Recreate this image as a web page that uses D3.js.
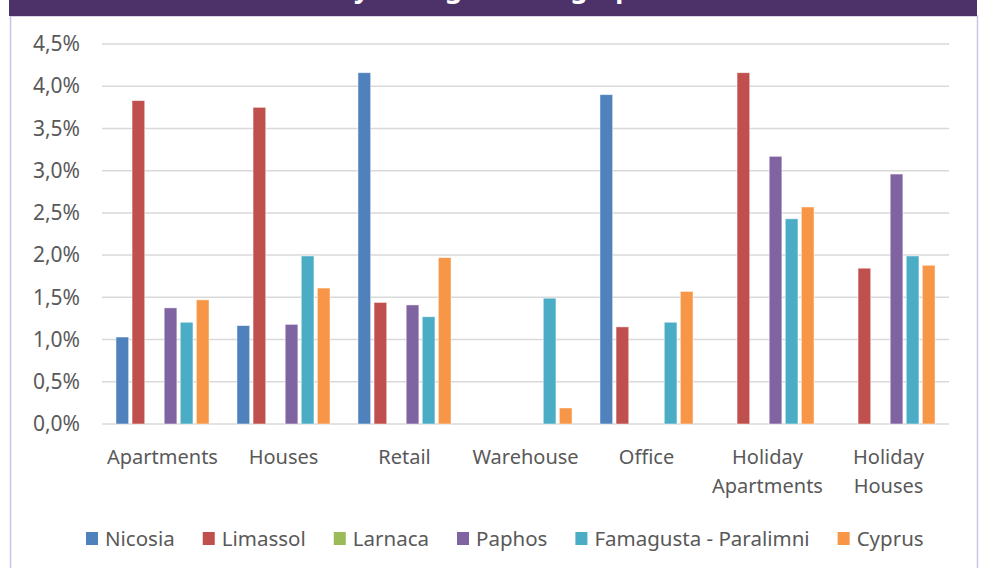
<!DOCTYPE html>
<html>
<head>
<meta charset="utf-8">
<script src="https://cdn.jsdelivr.net/npm/d3@7"></script>
<style>
  body { margin: 0; background: #fff; }
  svg { display: block; font-family: "Noto Sans", sans-serif; }
</style>
</head>
<body>
<div id="chart"></div>
<script>
// Chart data
const categories = ["Apartments", "Houses", "Retail", "Warehouse", "Office", "Holiday Apartments", "Holiday Houses"];
const seriesNames = ["Nicosia", "Limassol", "Larnaca", "Paphos", "Famagusta - Paralimni", "Cyprus"];
const seriesColors = ["#4f81bd", "#c0504d", "#9bbb59", "#8064a2", "#4bacc6", "#f79646"];

// values in %, null = no bar
const nicosia   = [1.03, 1.165, 4.16, null, 3.90, null, null];
const limassol  = [3.83, 3.75, 1.44, null, 1.15, 4.16, 1.845];
const larnaca   = [null, null, null, null, null, null, null];
const paphos    = [1.375, 1.18, 1.41, null, null, 3.17, 2.96];
const famagusta = [1.205, 1.99, 1.27, 1.49, 1.205, 2.43, 1.99];
const cyprus    = [1.47, 1.61, 1.97, 0.19, 1.57, 2.57, 1.88];
const seriesValues = [nicosia, limassol, larnaca, paphos, famagusta, cyprus];

const yTicks = [0, 0.5, 1, 1.5, 2, 2.5, 3, 3.5, 4, 4.5];
const title = "Yearly Change in Geographical Areas";

const width = 981;
const height = 568;
const plot = { left: 102, right: 949, top: 44, bottom: 424 };

const svg = d3.select("#chart")
    .append("svg")
    .attr("width", width)
    .attr("height", height);

// Outer frame and header banner
svg.append("rect")
    .attr("x", 10.5).attr("y", 16)
    .attr("width", 967).attr("height", height)
    .attr("fill", "#fff")
    .attr("stroke", "#cdc3e3")
    .attr("stroke-width", 1.5);

svg.append("rect")
    .attr("x", 9).attr("y", 0)
    .attr("width", 968).attr("height", 16)
    .attr("fill", "#4d3169");

// title is cut off at the top of the picture, only descenders show
svg.append("text")
    .attr("x", 286)
    .attr("y", -2)
    .attr("fill", "#fff")
    .style("font-size", "27px")
    .style("font-weight", "bold")
    .text(title);

// Scales
const x0 = d3.scaleBand()
    .domain(categories)
    .range([plot.left, plot.right])
    .padding(0);

const x1 = d3.scaleBand()
    .domain(seriesNames)
    .range([0, x0.bandwidth()])
    .paddingInner(0.21)
    .paddingOuter(0.87);

const y = d3.scaleLinear()
    .domain([0, 4.5])
    .range([plot.bottom, plot.top]);

const locale = d3.formatLocale({ decimal: ",", thousands: ".", grouping: [3], currency: ["", "€"] });
const fmt = locale.format(".1f");

// Gridlines
svg.append("g")
    .selectAll("line")
    .data(yTicks)
    .join("line")
    .attr("x1", plot.left)
    .attr("x2", plot.right)
    .attr("y1", d => y(d))
    .attr("y2", d => y(d))
    .attr("stroke", "#d9d9d9")
    .attr("stroke-width", 1.5);

// Y axis labels
const yAxis = d3.axisLeft(y)
    .tickValues(yTicks)
    .tickSize(0)
    .tickPadding(22)
    .tickFormat(d => fmt(d) + "%");

svg.append("g")
    .attr("transform", `translate(${plot.left}, 0)`)
    .call(yAxis)
    .call(g => g.select(".domain").remove())
    .call(g => g.selectAll("text")
        .attr("fill", "#595959")
        .style("font-family", "Noto Sans, sans-serif")
        .style("font-size", "21px"));

// Bars
const rows = categories.map((c, i) => ({
    category: c,
    values: seriesNames.map((s, j) => ({ series: s, color: seriesColors[j], value: seriesValues[j][i] }))
}));

svg.append("g")
    .selectAll("g")
    .data(rows)
    .join("g")
    .attr("transform", d => `translate(${x0(d.category)}, 0)`)
    .selectAll("rect")
    .data(d => d.values.filter(v => v.value != null))
    .join("rect")
    .attr("x", d => x1(d.series))
    .attr("y", d => y(d.value))
    .attr("width", x1.bandwidth())
    .attr("height", d => y(0) - y(d.value))
    .attr("fill", d => d.color)
    .attr("stroke", "rgba(255,255,255,0.6)")
    .attr("stroke-width", 0.8);

// X axis labels (wrapped in two lines where needed)
const xLabels = svg.append("g");
categories.forEach(c => {
    const words = c.split(" ");
    const t = xLabels.append("text")
        .attr("x", x0(c) + x0.bandwidth() / 2)
        .attr("y", 464)
        .attr("text-anchor", "middle")
        .attr("fill", "#595959")
        .style("font-size", "20px");
    words.forEach((w, i) => {
        t.append("tspan")
            .attr("x", x0(c) + x0.bandwidth() / 2)
            .attr("dy", i === 0 ? 0 : 29)
            .text(w);
    });
});

// Legend
const legend = svg.append("g");
let lx = 86;
seriesNames.forEach((s, i) => {
    legend.append("rect")
        .attr("x", lx)
        .attr("y", 532)
        .attr("width", 12)
        .attr("height", 13)
        .attr("fill", seriesColors[i]);
    const txt = legend.append("text")
        .attr("x", lx + 19)
        .attr("y", 546)
        .attr("fill", "#595959")
        .style("font-size", "20.5px")
        .text(s);
    lx += 19 + txt.node().getComputedTextLength() + 28;
});
</script>
</body>
</html>
